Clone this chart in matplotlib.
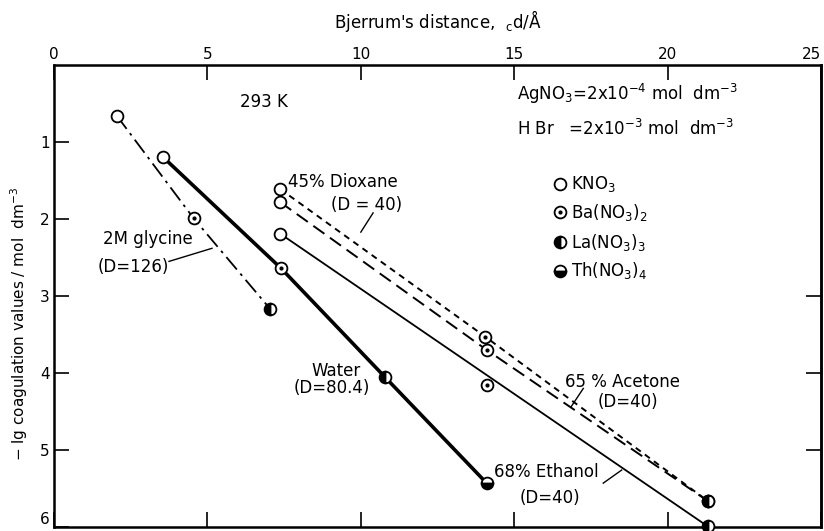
import numpy as np
import matplotlib
matplotlib.use("Agg")
import matplotlib.pyplot as plt

plt.rcParams["font.family"] = ["DejaVu Sans"]
plt.rcParams["mathtext.default"] = "regular"

# series: Bjerrum distance (A) vs -lg coagulation value
glycine_x = [2.05, 4.55, 7.05]
glycine_y = [0.66, 1.99, 3.17]
glycine_salts = ["K", "Ba", "La"]

water_x = [3.54, 7.40, 10.78, 14.10]
water_y = [1.19, 2.64, 4.05, 5.43]
water_salts = ["K", "Ba", "La", "Th"]

ethanol_x = [7.37, 14.10, 21.30]
ethanol_y = [2.19, 4.16, 5.99]
ethanol_salts = ["K", "Ba", "La"]

acetone_x = [7.37, 14.10, 21.30]
acetone_y = [1.78, 3.70, 5.66]
acetone_salts = ["K", "Ba", "La"]

dioxane_x = [7.37, 14.06, 21.30]
dioxane_y = [1.61, 3.53, 5.66]
dioxane_salts = ["K", "Ba", "La"]

legend_names = ["KNO$_3$", "Ba(NO$_3$)$_2$", "La(NO$_3$)$_3$", "Th(NO$_3$)$_4$"]
legend_keys = ["K", "Ba", "La", "Th"]
legend_y = [1.55, 1.91, 2.30, 2.67]

x_ticks = [0, 5, 10, 15, 20, 25]
y_ticks = [1, 2, 3, 4, 5, 6]

MS = 8.5


def marker(ax, x, y, salt):
    kw = dict(ms=MS, color="black", mew=1.3, zorder=5, clip_on=False)
    if salt == "K":
        ax.plot(x, y, "o", mfc="white", **kw)
    elif salt == "Ba":
        ax.plot(x, y, "o", mfc="white", **kw)
        ax.plot(x, y, "o", ms=2, color="black", zorder=6, clip_on=False)
    elif salt == "La":
        ax.plot(x, y, "o", fillstyle="left", mfc="black", mfcalt="white", **kw)
    elif salt == "Th":
        ax.plot(x, y, "o", fillstyle="bottom", mfc="black", mfcalt="white", **kw)


fig = plt.figure(figsize=(8.24, 5.31), dpi=100)
ax = fig.add_axes([0.0655, 0.0075, 0.931, 0.870])

ax.plot(glycine_x, glycine_y, color="black", lw=1.3, dashes=(9, 3, 1.5, 3))
ax.plot(water_x, water_y, color="black", lw=2.6)
ax.plot([ethanol_x[0], ethanol_x[-1]], [ethanol_y[0], ethanol_y[-1]], color="black", lw=1.3)
ax.plot(acetone_x, acetone_y, color="black", lw=1.4, dashes=(7, 3.5))
ax.plot(dioxane_x, dioxane_y, color="black", lw=1.4, dashes=(3.2, 2.6))

for xs, ys, ss in [(glycine_x, glycine_y, glycine_salts),
                   (water_x, water_y, water_salts),
                   (ethanol_x, ethanol_y, ethanol_salts),
                   (acetone_x, acetone_y, acetone_salts),
                   (dioxane_x, dioxane_y, dioxane_salts)]:
    for x, y, s in zip(xs, ys, ss):
        marker(ax, x, y, s)

# legend
for name, key, ly in zip(legend_names, legend_keys, legend_y):
    marker(ax, 16.5, ly, key)
    ax.text(16.85, ly, name, fontsize=12, va="center", ha="left")

fs = 12
ax.text(6.85, 0.48, "293 K", fontsize=fs, ha="center", va="center")
ax.text(15.1, 0.38, "AgNO$_3$=2x10$^{-4}$ mol  dm$^{-3}$", fontsize=fs, va="center")
ax.text(15.1, 0.83, "H Br   =2x10$^{-3}$ mol  dm$^{-3}$", fontsize=fs, va="center")

ax.text(7.62, 1.52, "45% Dioxane", fontsize=fs, va="center")
ax.text(10.2, 1.82, "(D = 40)", fontsize=fs, ha="center", va="center")
ax.plot([10.0, 10.4], [2.17, 1.92], color="black", lw=1)

ax.text(3.05, 2.26, "2M glycine", fontsize=fs, ha="center", va="center")
ax.text(2.6, 2.62, "(D=126)", fontsize=fs, ha="center", va="center")
ax.plot([3.75, 5.15], [2.55, 2.38], color="black", lw=1)

ax.text(9.2, 3.97, "Water", fontsize=fs, ha="center", va="center")
ax.text(9.05, 4.2, "(D=80.4)", fontsize=fs, ha="center", va="center")

ax.text(16.65, 4.12, "65 % Acetone", fontsize=fs, va="center")
ax.text(18.7, 4.37, "(D=40)", fontsize=fs, ha="center", va="center")
ax.plot([16.85, 17.25], [4.44, 4.2], color="black", lw=1)

ax.text(14.35, 5.29, "68% Ethanol", fontsize=fs, va="center")
ax.text(16.15, 5.62, "(D=40)", fontsize=fs, ha="center", va="center")
ax.plot([17.9, 18.5], [5.43, 5.26], color="black", lw=1)

ax.set_xlim(0, 25)
ax.set_ylim(6, 0)
ax.set_xticks(x_ticks)
ax.set_yticks(y_ticks)
ax.tick_params(axis="x", top=True, bottom=True, labeltop=True, labelbottom=False,
               direction="in", length=11, width=1.2, labelsize=11, pad=2)
ax.tick_params(axis="y", left=True, right=False, direction="in", length=11,
               width=1.2, labelsize=11, pad=3)
ax.get_xticklabels()[-1].set_horizontalalignment("right")
ax.get_yticklabels()[-1].set_verticalalignment("bottom")
sec = ax.secondary_yaxis("right")
sec.set_yticks([3, 4, 5])
sec.tick_params(direction="in", length=11, width=1.2, labelright=False)
sec.spines["right"].set_linewidth(1.8)
for sp in ax.spines.values():
    sp.set_linewidth(1.8)

ax.xaxis.set_label_position("top")
ax.set_xlabel("Bjerrum's distance,  ${}_c$d/Å", fontsize=12, labelpad=14)
ax.set_ylabel("$-$ lg coagulation values / mol  dm$^{-3}$", fontsize=11)
ax.yaxis.set_label_coords(-0.031, 0.44)

fig.savefig("out.png", dpi=100)
